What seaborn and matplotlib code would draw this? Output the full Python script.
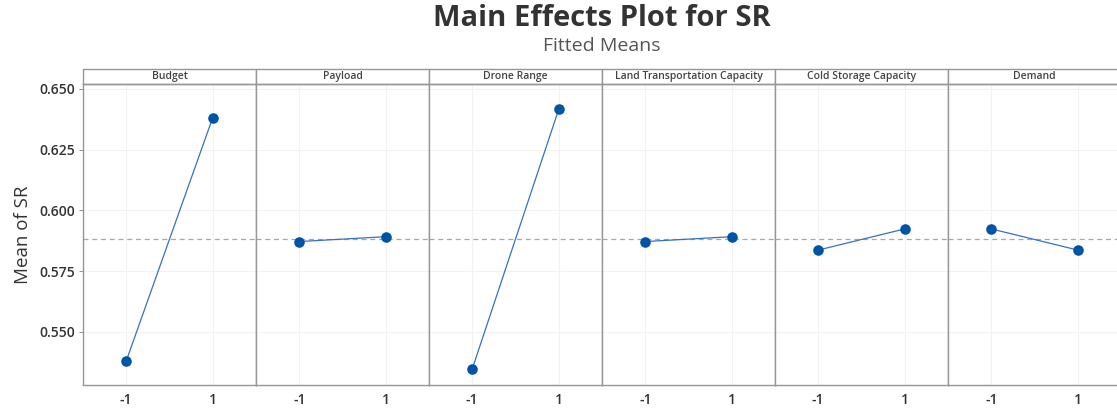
import numpy as np
import pandas as pd
import matplotlib
matplotlib.use("Agg")
import matplotlib.pyplot as plt
from matplotlib.patches import Rectangle
import seaborn as sns

# ---- data ----
levels = [-1, 1]
factors = ["Budget", "Payload", "Drone Range", "Land Transportation Capacity",
           "Cold Storage Capacity", "Demand"]
budget = [0.5381, 0.6382]
payload = [0.5872, 0.5892]
drone_range = [0.5348, 0.6416]
land_transport = [0.5872, 0.5892]
cold_storage = [0.5837, 0.5924]
demand = [0.5924, 0.5837]
overall_mean = 0.5882
y_ticks = [0.550, 0.575, 0.600, 0.625, 0.650]
y_tick_labels = ["0.550", "0.575", "0.600", "0.625", "0.650"]

series = [budget, payload, drone_range, land_transport, cold_storage, demand]
df = pd.DataFrame({
    "factor": np.repeat(factors, len(levels)),
    "level": levels * len(factors),
    "mean": np.concatenate(series),
})

sns.set_theme(style="white")
plt.rcParams["font.family"] = ["Open Sans", "DejaVu Sans"]

W, H = 1117, 411
fig, axes = plt.subplots(1, 6, figsize=(W / 100, H / 100), dpi=100, sharey=True)
fig.subplots_adjust(left=83 / W, right=1121 / W, top=1 - 84 / H, bottom=1 - 385 / H, wspace=0)

line_c = "#3572bd"
mark_c = "#0054a6"
edge_c = "#969696"
header_h = 15 / 301

for ax, fac in zip(axes, factors):
    sub = df[df["factor"] == fac]
    ax.grid(True, color="#f2f2f2", linewidth=0.8)
    ax.set_axisbelow(True)
    ax.axhline(overall_mean, color="#a8a8a8", linestyle=(0, (4, 3)), linewidth=0.9, zorder=1)
    sns.lineplot(data=sub, x="level", y="mean", ax=ax, color=line_c, linewidth=0.9,
                 legend=False, zorder=2)
    sns.scatterplot(data=sub, x="level", y="mean", ax=ax, color=mark_c, s=58,
                    edgecolor=mark_c, linewidth=0, legend=False, zorder=3)
    ax.set_xlim(-2, 2)
    ax.set_ylim(0.5282, 0.6520)
    ax.set_xticks(levels)
    ax.set_xticklabels(["-1", "1"], fontsize=10, fontweight="semibold", color="#333333")
    ax.tick_params(axis="x", length=0, pad=6)
    ax.set_xlabel("")
    ax.set_ylabel("")
    for s in ax.spines.values():
        s.set_color(edge_c)
        s.set_linewidth(1.0)
    ax.add_patch(Rectangle((0, 1), 1, header_h, transform=ax.transAxes, clip_on=False,
                           facecolor="white", edgecolor=edge_c, linewidth=1.0))
    ax.text(0.5, 1 + header_h / 2, fac, transform=ax.transAxes, ha="center", va="center",
            fontsize=7.5, fontweight="semibold", color="#444444")

ax0 = axes[0]
ax0.set_yticks(y_ticks)
ax0.set_yticklabels(y_tick_labels, fontsize=10, fontweight="semibold", color="#333333")
ax0.tick_params(axis="y", length=3, color=edge_c, width=0.8, pad=3, left=True)
for ax in axes[1:]:
    ax.tick_params(axis="y", length=0)
ax0.set_ylabel("Mean of SR", fontsize=13.5, color="#333333", labelpad=5)

cx = (83 + 1121) / 2 / W
fig.text(cx, 1 - 18 / H, "Main Effects Plot for SR", ha="center", va="center",
         fontsize=21, fontweight="bold", color="#333333")
fig.text(cx, 1 - 46 / H, "Fitted Means", ha="center", va="center",
         fontsize=14, color="#555555")

fig.savefig("out.png", dpi=100)
